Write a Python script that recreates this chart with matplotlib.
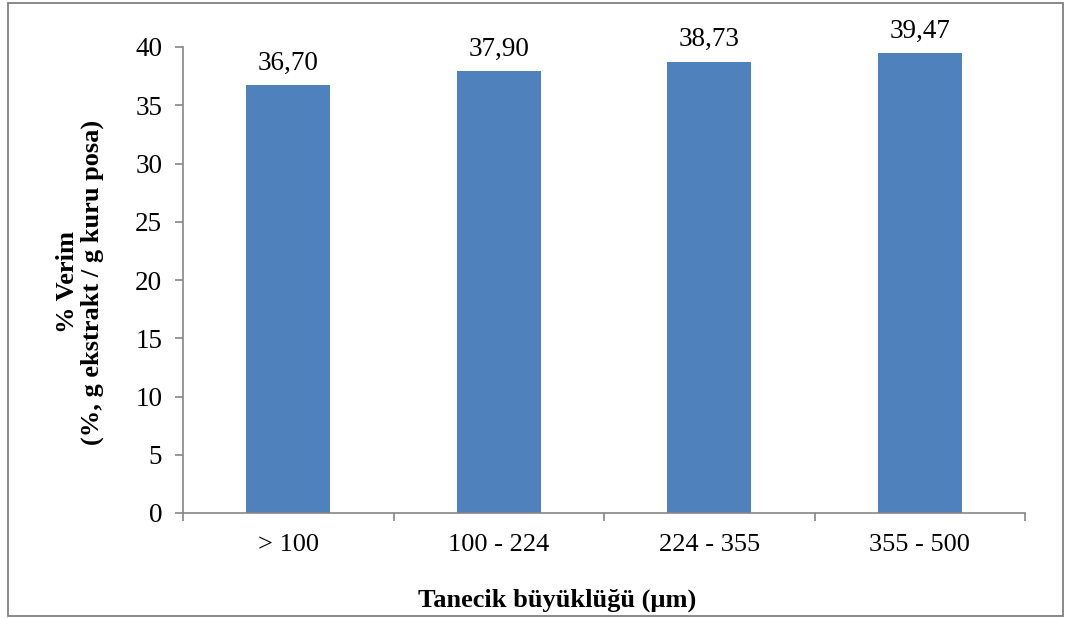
import matplotlib
matplotlib.use("Agg")
import matplotlib.pyplot as plt
from matplotlib.patches import Rectangle

categories = ["> 100", "100 - 224", "224 - 355", "355 - 500"]
yields = [36.70, 37.90, 38.73, 39.47]
value_labels = ["36,70", "37,90", "38,73", "39,47"]
y_ticks = [0, 5, 10, 15, 20, 25, 30, 35, 40]

plt.rcParams["font.family"] = ["Liberation Serif", "DejaVu Serif"]

W, H = 1071, 619
fig = plt.figure(figsize=(W / 100, H / 100), dpi=100)
ax = fig.add_axes([183 / W, 1 - 513 / H, (1025 - 183) / W, (513 - 47) / H])

x = list(range(len(categories)))
bars = ax.bar(x, yields, width=0.4, color="#4F81BD", edgecolor="none")

ax.set_xlim(-0.5, len(categories) - 0.5)
ax.set_ylim(0, 40)
ax.set_yticks(y_ticks)
ax.set_yticklabels([str(v) for v in y_ticks], fontsize=19.5)

# category labels centred, tick marks between categories
ax.set_xticks(x)
ax.set_xticklabels(categories, fontsize=19)
ax.tick_params(axis="x", which="major", length=0, pad=15)
ax.set_xticks([i - 0.5 for i in range(len(categories) + 1)], minor=True)
ax.tick_params(axis="x", which="minor", length=6, color="#868686", width=1.2, direction="out")
ax.tick_params(axis="y", length=6, color="#868686", width=1.2, direction="out", pad=9)

for side in ["top", "right"]:
    ax.spines[side].set_visible(False)
for side in ["left", "bottom"]:
    ax.spines[side].set_color("#868686")
    ax.spines[side].set_linewidth(1.2)

for b, lbl in zip(bars, value_labels):
    ax.annotate(lbl, (b.get_x() + b.get_width() / 2, b.get_height()),
                xytext=(0, 7), textcoords="offset points",
                ha="center", va="bottom", fontsize=19.5)

fig.text(80 / W, 1 - 282 / H, "% Verim\n(%, g ekstrakt / g kuru posa)",
         rotation=90, ha="center", va="center", fontsize=19,
         fontweight="bold", linespacing=1.05)
fig.text(557 / W, 1 - 600 / H, "Tanecik büyüklüğü (µm)",
         ha="center", va="center", fontsize=19, fontweight="bold")

# outer chart frame
fig.patches.append(Rectangle((8 / W, 1 - 616 / H), (1063 - 8) / W, (616 - 3) / H,
                             transform=fig.transFigure, fill=False,
                             edgecolor="#808080", linewidth=1.3))

fig.savefig("out.png", dpi=100)
